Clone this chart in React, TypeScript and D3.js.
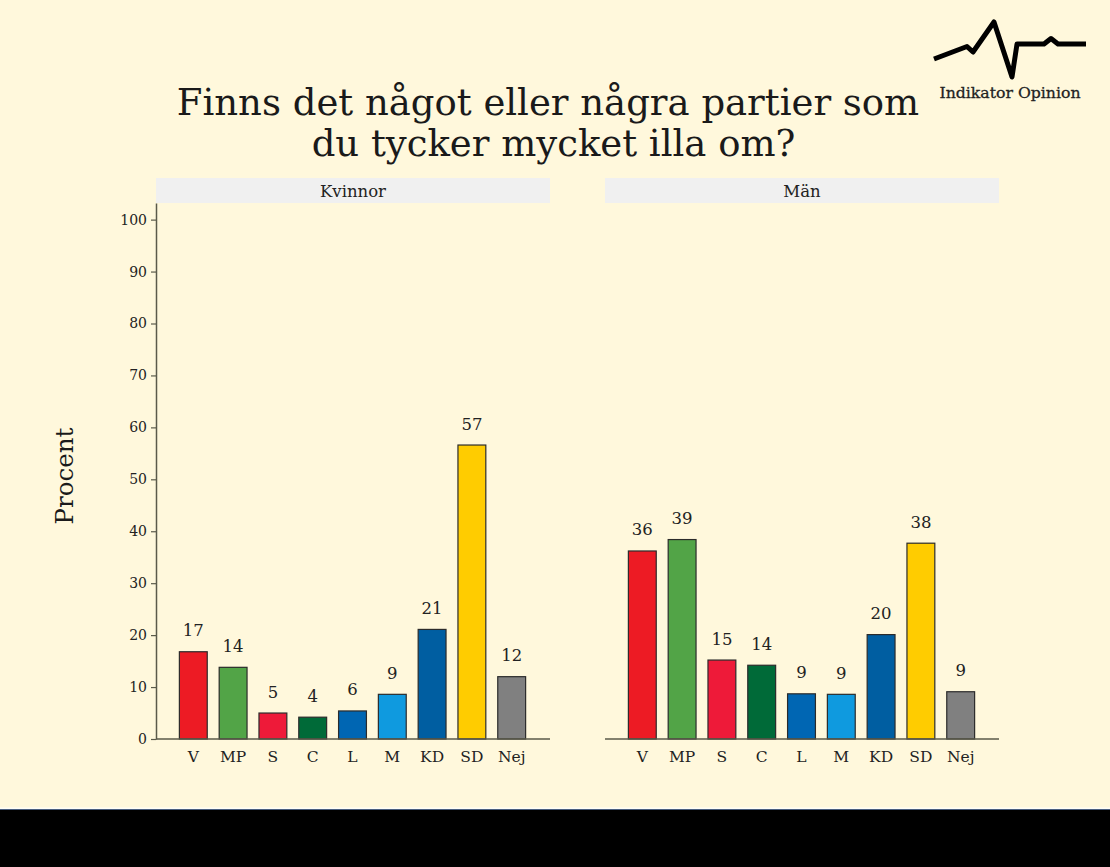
import { useEffect, useRef } from "react";
import * as d3 from "d3";

const WIDTH = 1110;
const HEIGHT = 867;
const FONT = "'DejaVu Serif', serif";

const parties = ["V", "MP", "S", "C", "L", "M", "KD", "SD", "Nej"];
const partyColors = ["#ED1B24", "#52A447", "#EE1A39", "#006A38", "#0066B3", "#0F9ADF", "#005EA1", "#FFCC00", "#808080"];
const kvinnorValues = [16.8, 13.8, 5, 4.2, 5.4, 8.6, 21.1, 56.6, 12];
const kvinnorLabels = ["17", "14", "5", "4", "6", "9", "21", "57", "12"];
const manValues = [36.2, 38.4, 15.2, 14.2, 8.7, 8.6, 20.1, 37.7, 9.1];
const manLabels = ["36", "39", "15", "14", "9", "9", "20", "38", "9"];
const yTicks = [0, 10, 20, 30, 40, 50, 60, 70, 80, 90, 100];

// logo trace, x/y in image pixels
const logoPoints: [number, number][] = [
  [934, 59], [967, 46.5], [973, 52], [994, 22], [1012, 77], [1017, 44],
  [1044, 44], [1051, 38.5], [1058, 44], [1086, 44],
];

const y = d3.scaleLinear().domain([0, 103.2]).range([739, 203]);

function Panel({ left, title, values, labels, showAxis }: {
  left: number;
  title: string;
  values: number[];
  labels: string[];
  showAxis: boolean;
}) {
  const axisRef = useRef<SVGGElement>(null);
  const right = left + 394;
  const x = d3.scaleBand().domain(parties).range([left + 0.5, right - 1.5]).paddingInner(0.3).paddingOuter(0.575);

  useEffect(() => {
    if (!axisRef.current || !showAxis) return;
    const g = d3.select(axisRef.current);
    g.selectAll("*").remove();
    g.call(d3.axisLeft(y).tickValues(yTicks).tickSize(5).tickSizeOuter(0).tickPadding(4));
    g.select(".domain").attr("stroke", "#5a5a4a").attr("stroke-width", 1.5);
    g.selectAll(".tick line").attr("stroke", "#5a5a4a").attr("stroke-width", 1.2);
    g.selectAll("text").attr("fill", "#222").attr("font-size", 14).attr("font-family", FONT);
  }, [showAxis]);

  return (
    <g>
      <rect x={left} y={178} width={right - left} height={25} fill="#F0F0F0" />
      <text x={(left + right) / 2} y={196.5} textAnchor="middle" fontSize={16.5} fill="#222">{title}</text>
      {parties.map((p, i) => (
        <g key={p}>
          <rect
            x={x(p)}
            y={y(values[i])}
            width={x.bandwidth()}
            height={y(0) - y(values[i])}
            fill={partyColors[i]}
            stroke="#2b2b2b"
            strokeWidth={1.2}
          />
          <text
            x={(x(p) ?? 0) + x.bandwidth() / 2}
            y={y(values[i]) - 15.5}
            textAnchor="middle"
            fontSize={16.5}
            fill="#222"
          >
            {labels[i]}
          </text>
          <text
            x={(x(p) ?? 0) + x.bandwidth() / 2}
            y={762}
            textAnchor="middle"
            fontSize={15.5}
            fill="#222"
          >
            {p}
          </text>
        </g>
      ))}
      <line x1={left} x2={right} y1={y(0)} y2={y(0)} stroke="#5a5a4a" strokeWidth={1.5} />
      {showAxis && <g ref={axisRef} transform={`translate(${left},0)`} />}
    </g>
  );
}

export default function App() {
  const logoLine = d3.line()(logoPoints) ?? "";
  return (
    <div style={{ width: WIDTH, height: HEIGHT, overflow: "hidden" }}>
      <style>{"body{margin:0}"}</style>
      <svg width={WIDTH} height={HEIGHT} style={{ display: "block" }} fontFamily={FONT}>
        <rect width={WIDTH} height={HEIGHT} fill="#FFF8DC" />
        <rect y={807.5} width={WIDTH} height={1.5} fill="#FFFEF6" />
        <rect y={809} width={WIDTH} height={1.5} fill="#4A5F80" />
        <rect y={810} width={WIDTH} height={57} fill="#000" />

        <text x={548} y={114.5} textAnchor="middle" fontSize={37} fill="#1a1a1a">
          Finns det något eller några partier som
        </text>
        <text x={553.5} y={155.5} textAnchor="middle" fontSize={37} fill="#1a1a1a">
          du tycker mycket illa om?
        </text>

        <path d={logoLine} fill="none" stroke="#000" strokeWidth={5} strokeLinejoin="round" />
        <text x={1010} y={98} textAnchor="middle" fontSize={15.7} fill="#222" stroke="#222" strokeWidth={0.3}>
          Indikator Opinion
        </text>

        <text
          transform="translate(73,476) rotate(-90)"
          textAnchor="middle"
          fontSize={24.5}
          fill="#1a1a1a"
        >
          Procent
        </text>

        <Panel left={156} title="Kvinnor" values={kvinnorValues} labels={kvinnorLabels} showAxis />
        <Panel left={605} title="Män" values={manValues} labels={manLabels} showAxis={false} />
      </svg>
    </div>
  );
}
